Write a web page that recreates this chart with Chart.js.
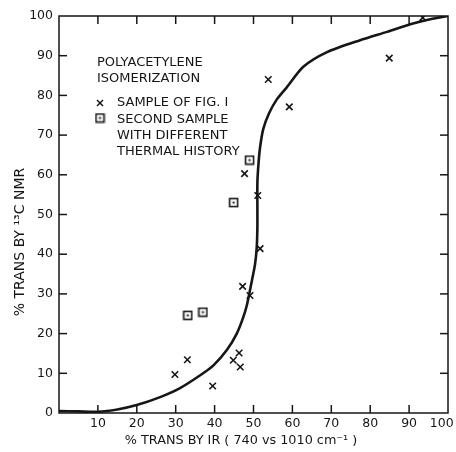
<!DOCTYPE html>
<html><head><meta charset="utf-8">
<script src="https://cdn.jsdelivr.net/npm/chart.js@4"></script>
<style>html,body{margin:0;padding:0;background:#fff}#wrap{width:456px;height:452px;position:relative}</style>
</head><body><div id="wrap"><canvas id="c"></canvas></div>
<script>
// ---- data ----
const xTicks = [10, 20, 30, 40, 50, 60, 70, 80, 90, 100];
const yTicks = [0, 10, 20, 30, 40, 50, 60, 70, 80, 90, 100];
const sampleFig1X = [29.8, 33.0, 39.5, 44.8, 46.3, 46.6, 47.2, 49.1, 47.7, 51.1, 51.7, 53.8, 59.2, 84.9, 93.5];
const sampleFig1Y = [9.7, 13.4, 6.8, 13.3, 15.1, 11.6, 31.9, 29.6, 60.3, 54.8, 41.4, 84.0, 77.1, 89.4, 99.6];
const secondSampleX = [33.1, 37.0, 44.9, 49.0];
const secondSampleY = [24.6, 25.4, 53.0, 63.7];
const curveX = [0, 5, 10, 15, 20, 26, 31, 36.3, 39.7, 43.1, 45.7, 47.4, 48.4, 49.6, 50.4, 50.85, 51, 51, 51, 51.3, 51.7, 52.5, 54, 56, 58.6, 62.8, 68.9, 77.4, 84.3, 91, 96, 100];
const curveY = [0.5, 0.4, 0.3, 0.9, 2.0, 4.0, 6.2, 9.5, 12, 15.8, 20, 24.2, 27.6, 33.4, 37.5, 42, 47, 52, 58, 63, 67, 71.5, 75.5, 79, 82.1, 87.2, 90.9, 93.9, 96, 98.1, 99.3, 100];
const legendTitle = ['POLYACETYLENE', 'ISOMERIZATION'];
const legendSample1 = ['SAMPLE OF FIG. I'];
const legendSample2 = ['SECOND SAMPLE', 'WITH DIFFERENT', 'THERMAL HISTORY'];
const xTitle = '% TRANS BY IR ( 740 vs 1010 cm\u207B\u00B9 )';
const yTitle = '% TRANS BY \u00B9\u00B3C NMR';

const INK = '#161616';
const FONT = "'DejaVu Sans', sans-serif";

function makeSquare() {
  const c = document.createElement('canvas');
  c.width = 11; c.height = 11;
  const g = c.getContext('2d');
  g.strokeStyle = INK; g.lineWidth = 1.6;
  g.strokeRect(1.5, 1.5, 8, 8);
  g.fillStyle = INK; g.fillRect(4.5, 4.5, 2, 2);
  return c;
}
const squareImg = makeSquare();

const frame = {
  id: 'frame',
  afterDraw(chart) {
    const { ctx, chartArea: a, scales: { x, y } } = chart;
    ctx.save();
    ctx.strokeStyle = INK; ctx.lineWidth = 1.5;
    ctx.strokeRect(a.left, a.top, a.right - a.left, a.bottom - a.top);
    const L = 8;
    const seg = (x1, y1, x2, y2) => { ctx.beginPath(); ctx.moveTo(x1, y1); ctx.lineTo(x2, y2); ctx.stroke(); };
    x.ticks.forEach(t => {
      if (t.value <= 0 || t.value >= 100) return;
      const px = x.getPixelForValue(t.value);
      seg(px, a.bottom, px, a.bottom - L);
      seg(px, a.top, px, a.top + L);
    });
    y.ticks.forEach(t => {
      if (t.value <= 0 || t.value >= 100) return;
      const py = y.getPixelForValue(t.value);
      seg(a.left, py, a.left + L, py);
      seg(a.right, py, a.right - L, py);
    });
    // legend text
    ctx.fillStyle = INK;
    ctx.font = '13px ' + FONT;
    ctx.textBaseline = 'middle';
    ctx.textAlign = 'left';
    const lx = a.left + 38, tx = a.left + 58;
    legendTitle.forEach((s, i) => ctx.fillText(s, lx, a.top + 47 + i * 16));
    legendSample1.forEach((s, i) => ctx.fillText(s, tx, a.top + 87 + i * 16));
    legendSample2.forEach((s, i) => ctx.fillText(s, tx, a.top + 104 + i * 16));
    // legend markers
    const mx = a.left + 41;
    ctx.lineWidth = 1.5;
    const r = 3;
    seg(mx - r, a.top + 87 - r, mx + r, a.top + 87 + r);
    seg(mx - r, a.top + 87 + r, mx + r, a.top + 87 - r);
    ctx.drawImage(squareImg, mx - 5.5, a.top + 102 - 5.5);
    // axis titles
    ctx.font = '12.8px ' + FONT;
    ctx.textAlign = 'center';
    ctx.fillText(xTitle, 241, 441);
    ctx.font = '14px ' + FONT;
    ctx.translate(20, 242);
    ctx.rotate(-Math.PI / 2);
    ctx.fillText(yTitle, 0, 0);
    ctx.restore();
  }
};

new Chart(document.getElementById('c'), {
  type: 'scatter',
  data: {
    datasets: [
      {
        label: 'curve',
        data: curveX.map((v, i) => ({ x: v, y: curveY[i] })),
        showLine: true, borderColor: INK, borderWidth: 2.6, pointRadius: 0, tension: 0.25, fill: false
      },
      {
        label: 'SAMPLE OF FIG. I',
        data: sampleFig1X.map((v, i) => ({ x: v, y: sampleFig1Y[i] })),
        pointStyle: 'crossRot', pointRadius: 4.6, borderColor: INK, borderWidth: 1.6, backgroundColor: INK
      },
      {
        label: 'SECOND SAMPLE WITH DIFFERENT THERMAL HISTORY',
        data: secondSampleX.map((v, i) => ({ x: v, y: secondSampleY[i] })),
        pointStyle: squareImg, pointRadius: 5
      }
    ]
  },
  options: {
    responsive: true, maintainAspectRatio: false, animation: false,
    layout: { padding: { top: 16, right: 8, left: 0, bottom: 0 } },
    plugins: { legend: { display: false }, tooltip: { enabled: false } },
    scales: {
      x: {
        type: 'linear', min: 0, max: 100,
        afterBuildTicks: s => { s.ticks = xTicks.map(v => ({ value: v })); },
        afterFit: s => { s.height = 39; s.paddingRight = 0; s.paddingLeft = 0; },
        grid: { display: false, drawTicks: false }, border: { display: false },
        ticks: {
          color: INK, font: { family: FONT, size: 12.5 }, padding: 3, maxRotation: 0,
          callback: v => (v === 100 ? String(v) + '\u2003' : String(v))
        },
        title: { display: false }
      },
      y: {
        type: 'linear', min: 0, max: 100,
        afterBuildTicks: s => { s.ticks = yTicks.map(v => ({ value: v })); },
        afterFit: s => { s.width = 59; s.paddingTop = 0; s.paddingBottom = 0; },
        grid: { display: false, drawTicks: false }, border: { display: false },
        ticks: { color: INK, font: { family: FONT, size: 12.5 }, padding: 6 },
        title: { display: false }
      }
    }
  },
  plugins: [frame]
});
</script>
</body></html>
